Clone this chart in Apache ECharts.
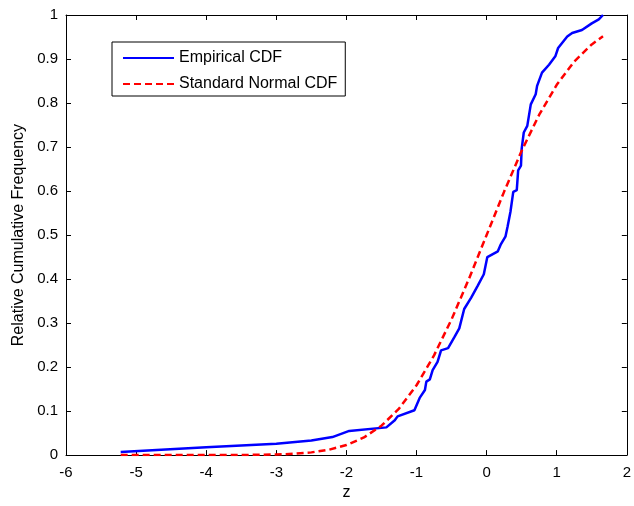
<!DOCTYPE html>
<html>
<head>
<meta charset="utf-8">
<script src="https://cdn.jsdelivr.net/npm/echarts@6/dist/echarts.min.js"></script>
<style>
  html, body { margin: 0; padding: 0; background: #fff; }
  #chart { width: 634px; height: 506px; }
</style>
</head>
<body>
<div id="chart"></div>
<script>
// Empirical CDF of standardized sample values (z, relative cumulative frequency)
const empiricalZ = [-5.22, -4.0, -3.0, -2.5, -2.2, -1.96, -1.43, -1.31, -1.27, -1.03, -0.955, -0.88, -0.86, -0.81, -0.77, -0.70, -0.65, -0.55, -0.46, -0.39, -0.32, -0.22, -0.13, -0.04, 0.01, 0.16, 0.20, 0.27, 0.30, 0.34, 0.38, 0.43, 0.45, 0.49, 0.50, 0.53, 0.58, 0.63, 0.70, 0.72, 0.79, 0.89, 0.98, 1.02, 1.15, 1.22, 1.36, 1.50, 1.60, 1.66];
const empiricalF = [0.007, 0.018, 0.026, 0.033, 0.041, 0.055, 0.063, 0.079, 0.088, 0.102, 0.130, 0.148, 0.167, 0.172, 0.193, 0.212, 0.238, 0.243, 0.268, 0.288, 0.332, 0.358, 0.384, 0.411, 0.450, 0.463, 0.478, 0.497, 0.520, 0.553, 0.598, 0.602, 0.647, 0.658, 0.696, 0.733, 0.748, 0.797, 0.820, 0.839, 0.869, 0.887, 0.906, 0.925, 0.951, 0.959, 0.966, 0.981, 0.990, 1.0];

// Standard normal CDF sampled over the same range
const normalZ = [-5.22, -4.5, -4.0, -3.5, -3.0, -2.75, -2.5, -2.25, -2.0, -1.75, -1.5, -1.25, -1.0, -0.75, -0.5, -0.25, 0.0, 0.25, 0.5, 0.75, 1.0, 1.25, 1.5, 1.66];
const normalF = [0.0000, 0.0000, 0.0000, 0.0002, 0.0013, 0.0030, 0.0062, 0.0122, 0.0228, 0.0401, 0.0668, 0.1056, 0.1587, 0.2266, 0.3085, 0.4013, 0.5000, 0.5987, 0.6915, 0.7734, 0.8413, 0.8944, 0.9332, 0.9515];

const seriesNames = ['Empirical CDF', 'Standard Normal CDF'];
const xTitle = 'z';
const yTitle = 'Relative Cumulative Frequency';

const pairs = (xs, ys) => xs.map((x, i) => [x, ys[i]]);
const font = 'Liberation Sans, Arial, sans-serif';

const tickStyle = { show: true, inside: true, length: 5, lineStyle: { color: '#000', width: 1 } };
const lineStyle = { show: true, onZero: false, lineStyle: { color: '#000', width: 1 } };

const chart = echarts.init(document.getElementById('chart'));
chart.setOption({
  animation: false,
  backgroundColor: '#fff',
  grid: { left: 66, right: 4, top: 15, bottom: 47 },
  legend: {
    orient: 'vertical',
    left: 112, top: 42,
    padding: [8, 8, 4, 10],
    itemGap: 10,
    itemWidth: 51,
    itemHeight: 14,
    borderColor: '#000',
    borderWidth: 1,
    borderRadius: 0,
    backgroundColor: '#fff',
    itemStyle: { opacity: 0 },
    textStyle: { fontFamily: font, fontSize: 16, color: '#000', width: 165 },
    data: seriesNames
  },
  xAxis: [
    {
      type: 'value', min: -6, max: 2, interval: 1,
      name: xTitle, nameLocation: 'middle', nameGap: 28,
      nameTextStyle: { fontFamily: font, fontSize: 16, color: '#000' },
      axisLine: lineStyle, axisTick: tickStyle,
      axisLabel: { fontFamily: font, fontSize: 15, color: '#000', margin: 10 },
      splitLine: { show: false }
    },
    {
      type: 'value', position: 'top', min: -6, max: 2, interval: 1,
      axisLine: lineStyle, axisTick: tickStyle,
      axisLabel: { show: false }, splitLine: { show: false }
    }
  ],
  yAxis: [
    {
      type: 'value', min: 0, max: 1, interval: 0.1,
      name: yTitle, nameLocation: 'middle', nameGap: 39, nameRotate: 90,
      nameTextStyle: { fontFamily: font, fontSize: 16, color: '#000' },
      axisLine: lineStyle, axisTick: tickStyle,
      axisLabel: { fontFamily: font, fontSize: 15, color: '#000', margin: 8 },
      splitLine: { show: false }
    },
    {
      type: 'value', position: 'right', min: 0, max: 1, interval: 0.1,
      axisLine: lineStyle, axisTick: tickStyle,
      axisLabel: { show: false }, splitLine: { show: false }
    }
  ],
  series: [
    {
      name: seriesNames[0], type: 'line', symbol: 'none',
      data: pairs(empiricalZ, empiricalF),
      lineStyle: { color: '#0000ff', width: 2.5 },
      itemStyle: { color: '#0000ff' }
    },
    {
      name: seriesNames[1], type: 'line', symbol: 'none',
      data: pairs(normalZ, normalF),
      lineStyle: { color: '#ff0000', width: 2.5, type: [7, 4] },
      itemStyle: { color: '#ff0000' }
    }
  ]
});
</script>
</body>
</html>
